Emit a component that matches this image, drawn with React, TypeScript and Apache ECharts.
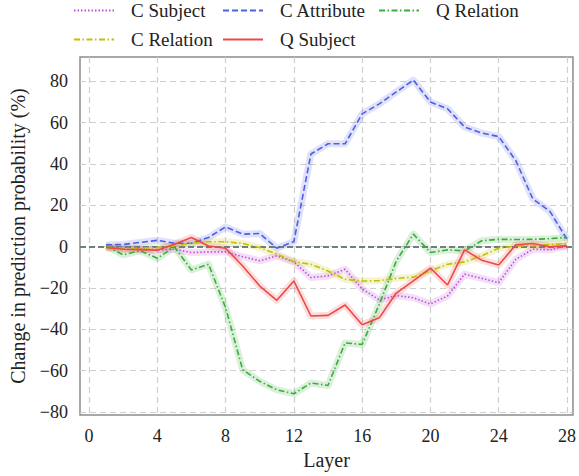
import React, { useEffect, useRef } from "react";
import * as echarts from "echarts";

const layers = [1,2,3,4,5,6,7,8,9,10,11,12,13,14,15,16,17,18,19,20,21,22,23,24,25,26,27,28];
const cSubject = [-0.2,-0.8,-1.3,-1.6,-1.3,-2.9,-2.6,-2.6,-4.9,-6.9,-4.5,-7.4,-15,-14.2,-11,-20.5,-25.8,-23.7,-24.8,-27.8,-23.9,-13.4,-15.4,-17.5,-6.2,-1.3,-1.6,0.3];
const cAttribute = [0.8,1.0,2.0,3.0,1.6,1.6,4.4,9.5,6,6.3,-0.8,2.4,44.8,49.7,49.7,64.2,69,74.8,80.5,69.9,66.7,57.8,54.9,53.2,41.6,23,17,3.5];
const qRelation = [0.3,-4,-2,-5.7,-0.2,-11.3,-8.6,-29.6,-59.6,-65.2,-69.3,-71.2,-66,-67.2,-46.6,-47.4,-28,-7,6,-2.9,-1.6,-2.1,2.8,3.5,3.4,3.5,3.8,4.4];
const cRelation = [-0.3,-0.8,-0.8,-0.5,0.3,1.6,2.3,2.3,1.5,-0.5,-3.7,-7.3,-8.6,-11.8,-15.9,-16.7,-16.5,-15.4,-14.8,-11.8,-8.6,-7.4,-4.5,-0.8,0.3,0.3,1.0,1.5];
const qSubject = [-0.5,-1.3,-1.5,-1.8,1.1,4.4,0.3,-0.8,-9.4,-19.1,-26,-16.7,-33.6,-33.3,-28.3,-37.8,-34.5,-22.5,-16.6,-10.4,-18.6,-1.6,-6.6,-8.9,0.8,1.5,-0.1,0.3];
const xTicks = [0,4,8,12,16,20,24,28];
const yTicks = [-80,-60,-40,-20,0,20,40,60,80];

const FONT = "'Liberation Serif', 'Times New Roman', serif";

const seriesDefs = [
  { name: "C Subject", data: cSubject, color: "#bf4fd8", type: [1.5, 2] as any, width: 1.6 },
  { name: "C Attribute", data: cAttribute, color: "#4d5fe4", type: [6, 3] as any, width: 1.6 },
  { name: "Q Relation", data: qRelation, color: "#3aad3a", type: [6, 2.5, 1.5, 2.5] as any, width: 1.6 },
  { name: "C Relation", data: cRelation, color: "#c2c000", type: [6, 2.5, 1.5, 2.5] as any, width: 1.6 },
  { name: "Q Subject", data: qSubject, color: "#f04646", type: "solid" as any, width: 1.6 },
];

export default function App() {
  const ref = useRef<HTMLDivElement>(null);
  useEffect(() => {
    const chart = echarts.init(ref.current!, null, { renderer: "svg" });
    const series: any[] = [];
    seriesDefs.forEach((s) => {
      series.push({
        name: s.name + " band",
        type: "line",
        data: layers.map((l, j) => [l, s.data[j]]),
        showSymbol: false,
        symbol: "none",
        silent: true,
        clip: false,
        z: 1,
        lineStyle: { color: s.color, width: 7, opacity: 0.18, join: "round" },
      });
    });
    seriesDefs.forEach((s, i) => {
      series.push({
        name: s.name,
        type: "line",
        data: layers.map((l, j) => [l, s.data[j]]),
        showSymbol: false,
        symbol: "none",
        clip: false,
        z: 3,
        color: s.color,
        lineStyle: { color: s.color, width: s.width, type: s.type },
        markLine: i === 0 ? {
          silent: true,
          symbol: ["none", "none"],
          label: { show: false },
          lineStyle: { color: "#6e7f80", type: [6, 3], width: 1.8 },
          data: [{ yAxis: 0 }],
          z: 2,
        } : undefined,
      });
    });
    const legendBase = {
      orient: "vertical",
      itemWidth: 40,
      itemHeight: 14,
      itemGap: 10,
      top: -4,
      itemStyle: { opacity: 0 },
      formatter: (n: string) => "{g|}" + n,
      textStyle: {
        fontFamily: FONT, fontSize: 19, color: "#222",
        rich: { g: { width: 12, fontSize: 19, fontFamily: FONT } },
      },
    };
    chart.setOption({
      animation: false,
      legend: [
        { ...legendBase, left: 68, data: ["C Subject", "C Relation"] },
        { ...legendBase, left: 217, data: ["C Attribute", "Q Subject"] },
        { ...legendBase, left: 373, data: ["Q Relation"] },
      ],
      grid: { left: 80, right: 4, top: 57, bottom: 61, show: true, borderColor: "#8c8c8c", borderWidth: 1.5 },
      xAxis: {
        type: "value",
        min: -0.53,
        max: 28.35,
        name: "Layer",
        nameLocation: "middle",
        nameGap: 33,
        nameTextStyle: { fontFamily: FONT, fontSize: 20, color: "#222" },
        axisLine: { show: false },
        axisTick: { show: false, customValues: xTicks },
        axisLabel: { customValues: xTicks, fontFamily: FONT, fontSize: 18, color: "#222", margin: 12 },
        splitLine: { show: true, lineStyle: { color: "#cfcfcf", type: [6, 4], width: 1.2 } },
      },
      yAxis: {
        type: "value",
        min: -81.5,
        max: 91.7,
        name: "Change in prediction probability (%)",
        nameLocation: "middle",
        nameGap: 52,
        nameTextStyle: { fontFamily: FONT, fontSize: 20, color: "#222" },
        axisLine: { show: false },
        axisTick: { show: false, customValues: yTicks },
        axisLabel: {
          customValues: yTicks, fontFamily: FONT, fontSize: 18, color: "#222", margin: 12,
          formatter: (v: number) => String(v).replace("-", "\u2212"),
        },
        splitLine: { show: true, lineStyle: { color: "#cfcfcf", type: [6, 4], width: 1.2 } },
      },
      series,
    });
    return () => chart.dispose();
  }, []);
  return <div ref={ref} style={{ width: 579, height: 476, position: "absolute", left: 0, top: 0 }} />;
}
